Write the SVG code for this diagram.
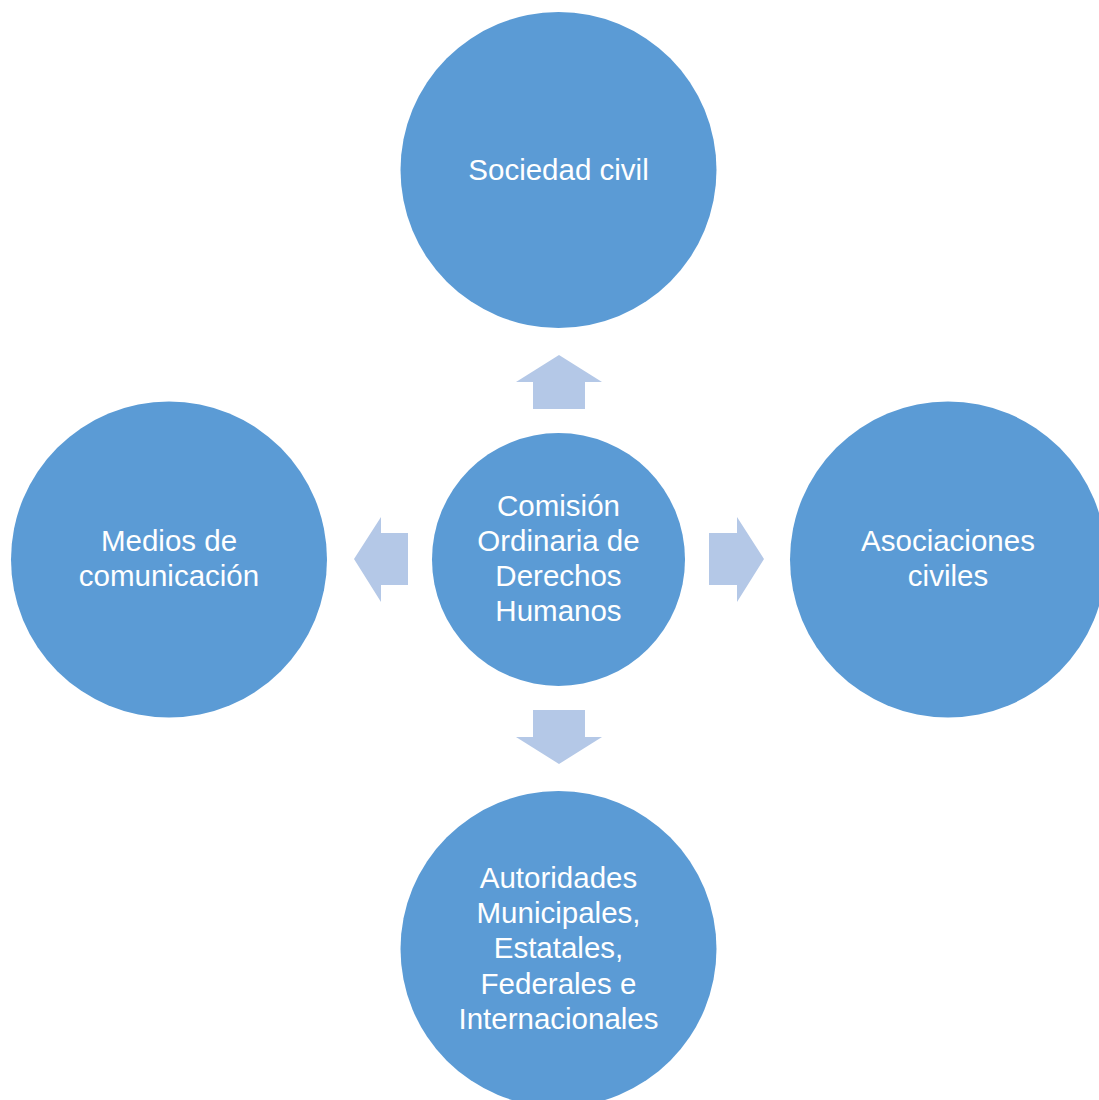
<svg xmlns="http://www.w3.org/2000/svg" width="1099" height="1100" viewBox="0 0 1099 1100">
<style>
.node{fill:#5B9BD5}
.arr{fill:#B4C8E7}
.t{font-family:"Liberation Sans",Arial,sans-serif;font-size:29.5px;fill:#FFFFFF;text-anchor:middle}
</style>
<rect width="1099" height="1100" fill="#FFFFFF"/>
<g id="connectors">
<polygon class="arr" points="533,409 533,382 516,382 559,355 602,382 585,382 585,409"/>
<polygon class="arr" points="533,710 533,737 516,737 559,764 602,737 585,737 585,710"/>
<polygon class="arr" points="408,533 381,533 381,517 354,559 381,602 381,585 408,585"/>
<polygon class="arr" points="709,533 737,533 737,517 764,559 737,602 737,585 709,585"/>
</g>
<g id="n-top">
<circle class="node" cx="558.5" cy="170" r="158"/>
<text class="t" x="558.5" y="180">Sociedad civil</text>
</g>
<g id="n-left">
<circle class="node" cx="169" cy="559.5" r="158"/>
<text class="t" x="169" y="551">Medios de</text>
<text class="t" x="169" y="586">comunicación</text>
</g>
<g id="n-right">
<circle class="node" cx="948" cy="559.5" r="158"/>
<text class="t" x="948" y="551">Asociaciones</text>
<text class="t" x="948" y="586">civiles</text>
</g>
<g id="n-bottom">
<circle class="node" cx="558.5" cy="949" r="158"/>
<text class="t" x="558.5" y="888">Autoridades</text>
<text class="t" x="558.5" y="923">Municipales,</text>
<text class="t" x="558.5" y="958">Estatales,</text>
<text class="t" x="558.5" y="994">Federales e</text>
<text class="t" x="558.5" y="1029">Internacionales</text>
</g>
<g id="n-center">
<circle class="node" cx="558.5" cy="559.5" r="126.5"/>
<text class="t" x="558.5" y="516">Comisión</text>
<text class="t" x="558.5" y="551">Ordinaria de</text>
<text class="t" x="558.5" y="586">Derechos</text>
<text class="t" x="558.5" y="621">Humanos</text>
</g>
</svg>
